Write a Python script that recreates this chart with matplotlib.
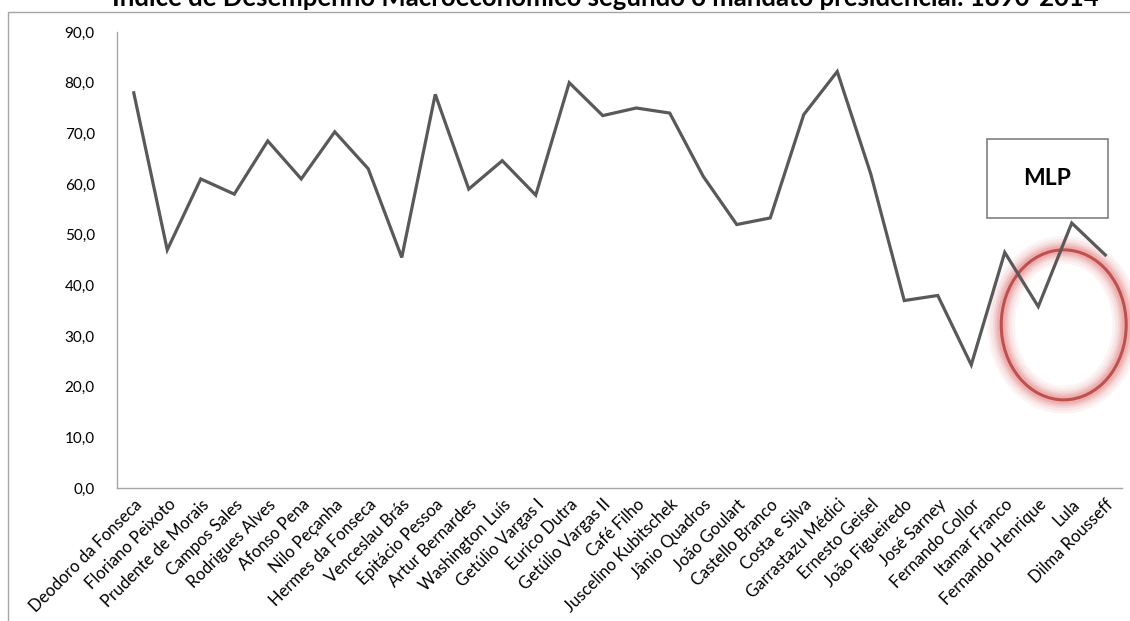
import matplotlib
matplotlib.use("Agg")
import matplotlib.pyplot as plt
from matplotlib.patches import Ellipse, Rectangle

plt.rcParams['font.family'] = ['Lato', 'DejaVu Sans']

presidents = ["Deodoro da Fonseca", "Floriano Peixoto", "Prudente de Morais", "Campos Sales",
              "Rodrigues Alves", "Afonso Pena", "Nilo Peçanha", "Hermes da Fonseca",
              "Venceslau Brás", "Epitácio Pessoa", "Artur Bernardes", "Washington Luís",
              "Getúlio Vargas I", "Eurico Dutra", "Getúlio Vargas II", "Café Filho",
              "Juscelino Kubitschek", "Jânio Quadros", "João Goulart", "Castello Branco",
              "Costa e Silva", "Garrastazu Médici", "Ernesto Geisel", "João Figueiredo",
              "José Sarney", "Fernando Collor", "Itamar Franco", "Fernando Henrique",
              "Lula", "Dilma Rousseff"]
index_values = [78.0, 47.0, 61.0, 58.0, 68.5, 61.0, 70.3, 63.0, 45.5, 77.7,
                59.0, 64.6, 57.8, 80.0, 73.5, 75.0, 74.0, 61.5, 52.0, 53.3,
                73.7, 82.2, 62.0, 37.0, 38.0, 24.3, 46.5, 35.8, 52.3, 46.0]
y_ticks = [0, 10, 20, 30, 40, 50, 60, 70, 80, 90]
y_tick_labels = ["0,0", "10,0", "20,0", "30,0", "40,0", "50,0", "60,0", "70,0", "80,0", "90,0"]
title = "Índice de Desempenho Macroeconômico segundo o mandato presidencial: 1890-2014"
box_label = "MLP"

W, H = 1130, 621
fig = plt.figure(figsize=(W / 100, H / 100), dpi=100)
ax = fig.add_axes([117 / W, 1 - 488 / H, (1122 - 117) / W, (488 - 32) / H])

# chart border
fig.patches.append(Rectangle((8 / W, -0.1), 1.2, 1 - 12 / H + 0.1, transform=fig.transFigure,
                             fill=False, edgecolor='#a6a6a6', linewidth=1.0))

x = list(range(len(presidents)))
ax.plot(x, index_values, color='#595959', linewidth=2.3, solid_joinstyle='miter')

ax.set_xlim(-0.5, len(presidents) - 0.5)
ax.set_ylim(0, 90)
ax.set_yticks(y_ticks)
ax.set_yticklabels(y_tick_labels, fontsize=11)
ax.set_xticks(x)
ax.set_xticklabels(presidents, rotation=45, ha='right', va='top', rotation_mode='anchor', fontsize=12)
ax.tick_params(axis='both', length=0)
ax.tick_params(axis='y', pad=16)
ax.tick_params(axis='x', pad=6)
for s in ['top', 'right']:
    ax.spines[s].set_visible(False)
for s in ['left', 'bottom']:
    ax.spines[s].set_color('#a6a6a6')
    ax.spines[s].set_linewidth(1.0)

# glowing ellipse
ecx, ecy, ew, eh = 27.76, 32.2, 3.73, 29.6
for lw, a in [(20, 0.07), (16, 0.09), (12, 0.12), (9, 0.16), (6, 0.22)]:
    ax.add_patch(Ellipse((ecx, ecy), ew, eh, fill=False, edgecolor='#e06666', linewidth=lw,
                         alpha=a, clip_on=False))
ax.add_patch(Ellipse((ecx, ecy), ew, eh, fill=False, edgecolor='#c0504d', linewidth=2.2,
                     clip_on=False))

# MLP box
ax.add_patch(Rectangle((25.46, 53.3), 29.07 - 25.46, 68.9 - 53.3, facecolor='white',
                       edgecolor='#808080', linewidth=1.2, clip_on=False))
ax.text((25.46 + 29.07) / 2, (53.3 + 68.9) / 2, box_label, ha='center', va='center',
        fontsize=16.5, fontweight='bold', color='black')

fig.text(605 / W, 1 - 6 / H, title, ha='center', va='baseline', fontsize=18.5, fontweight='bold')

fig.savefig('out.png', dpi=100)
